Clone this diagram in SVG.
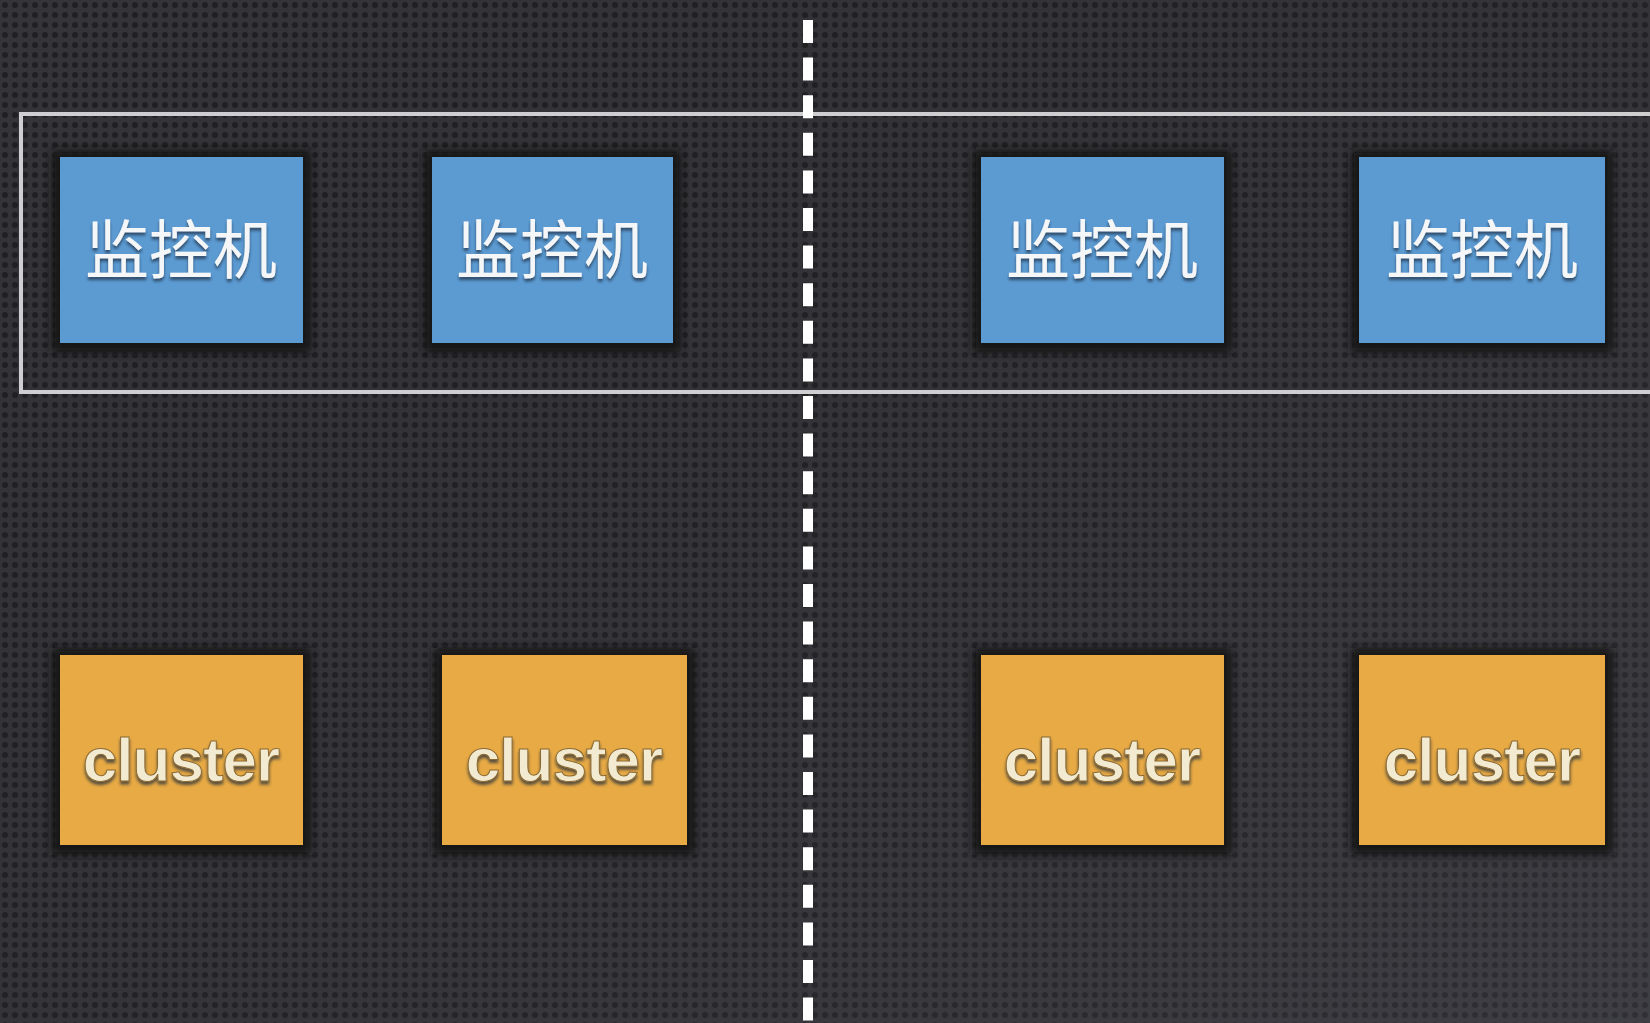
<svg xmlns="http://www.w3.org/2000/svg" width="1650" height="1023" viewBox="0 0 1650 1023">
<style>
.blue{fill:#5c9bd2;}
.orange{fill:#e8aa44;}
.shadow{fill:#151517;filter:url(#blur);}
.cn{font-family:"Noto Sans CJK SC","Noto Sans",sans-serif;font-size:64px;fill:#f4f6f8;text-anchor:middle;filter:url(#ts);}
.en{font-family:"Liberation Sans","Noto Sans",sans-serif;font-weight:bold;font-size:62px;fill:#f3ead2;stroke:#8a6a30;stroke-width:1;text-anchor:middle;letter-spacing:-1px;filter:url(#ts);}
</style>
<defs>
<pattern id="mesh" width="10" height="10" patternUnits="userSpaceOnUse">
<rect width="10" height="10" fill="#38383c"/>
<circle cx="5" cy="5" r="3" fill="#222225"/>
</pattern>
<linearGradient id="tint" x1="0" y1="0" x2="1" y2="1">
<stop offset="0" stop-color="#000" stop-opacity="0.05"/>
<stop offset="1" stop-color="#4a4a55" stop-opacity="0.35"/>
</linearGradient>
<filter id="ts" x="-10%" y="-20%" width="120%" height="150%">
<feDropShadow dx="0" dy="3" stdDeviation="1.5" flood-color="#1a2a3a" flood-opacity="0.7"/>
</filter>
<filter id="blur" x="-10%" y="-10%" width="120%" height="120%">
<feGaussianBlur stdDeviation="4"/>
</filter>
</defs>
<rect width="1650" height="1023" fill="url(#mesh)"/>
<rect width="1650" height="1023" fill="url(#tint)"/>
<g id="frame">
<rect x="21" y="114" width="1640" height="278" fill="none" stroke="#cfcfd2" stroke-width="4"/>
</g>
<g id="connectors">
<line x1="808" y1="20" x2="808" y2="1023" stroke="#ffffff" stroke-width="10" stroke-dasharray="23 14.6"/>
</g>
<g id="mon1"><rect class="shadow" x="52" y="150" width="259" height="203"/><rect class="blue" x="60" y="157" width="243" height="186"/><text class="cn" x="181" y="273">监控机</text></g>
<g id="mon2"><rect class="shadow" x="424" y="150" width="257" height="203"/><rect class="blue" x="432" y="157" width="241" height="186"/><text class="cn" x="552" y="273">监控机</text></g>
<g id="mon3"><rect class="shadow" x="973" y="150" width="259" height="203"/><rect class="blue" x="981" y="157" width="243" height="186"/><text class="cn" x="1102" y="273">监控机</text></g>
<g id="mon4"><rect class="shadow" x="1351" y="150" width="262" height="203"/><rect class="blue" x="1359" y="157" width="246" height="186"/><text class="cn" x="1482" y="273">监控机</text></g>
<g id="cluster1"><rect class="shadow" x="52" y="648" width="259" height="207"/><rect class="orange" x="60" y="655" width="243" height="190"/><text class="en" x="181" y="781">cluster</text></g>
<g id="cluster2"><rect class="shadow" x="434" y="648" width="261" height="207"/><rect class="orange" x="442" y="655" width="245" height="190"/><text class="en" x="564" y="781">cluster</text></g>
<g id="cluster3"><rect class="shadow" x="973" y="648" width="259" height="207"/><rect class="orange" x="981" y="655" width="243" height="190"/><text class="en" x="1102" y="781">cluster</text></g>
<g id="cluster4"><rect class="shadow" x="1351" y="648" width="262" height="207"/><rect class="orange" x="1359" y="655" width="246" height="190"/><text class="en" x="1482" y="781">cluster</text></g>
</svg>
